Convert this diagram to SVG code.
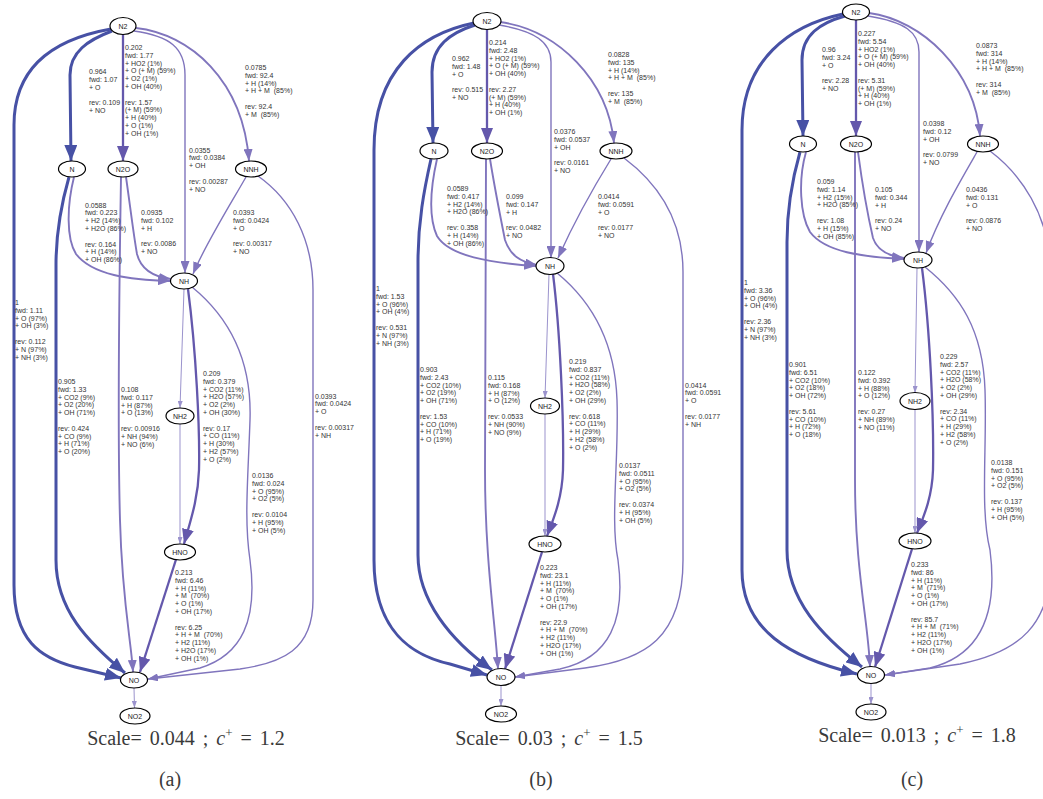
<svg xmlns="http://www.w3.org/2000/svg" width="1043" height="799" viewBox="0 0 1043 799">
<style>
.bg{fill:#fff}
.nd ellipse{fill:#fff;stroke:#000;stroke-width:1.2}
.nd text{font-family:"Liberation Sans",Arial,sans-serif;font-size:7px;fill:#222;text-anchor:middle}
.e{fill:none}
.dk{stroke:#4751a5;stroke-width:3}
.md{stroke:#6458ac;stroke-width:2.3}
.lt{stroke:#8075bd;stroke-width:1.9}
.lt2{stroke:#8075bd;stroke-width:1.4}
.xs{stroke:#9b93cd;stroke-width:1}
.lb{font-family:"Liberation Sans",Arial,sans-serif;font-size:7px;fill:#333;white-space:pre}
.cap{font-family:"Liberation Serif","Times New Roman",serif;font-size:20px;fill:#3a3a3a;text-anchor:middle;word-spacing:3px}
</style>
<defs>
<marker id="aDk" markerUnits="userSpaceOnUse" viewBox="0 0 16 13" markerWidth="16" markerHeight="13" refX="16" refY="6.5" orient="auto"><path d="M0,0 L16,6.5 L0,13 Z" fill="#4751a5"/></marker>
<marker id="aMd" markerUnits="userSpaceOnUse" viewBox="0 0 15 12" markerWidth="15" markerHeight="12" refX="15" refY="6" orient="auto"><path d="M0,0 L15,6 L0,12 Z" fill="#6458ac"/></marker>
<marker id="aLt" markerUnits="userSpaceOnUse" viewBox="0 0 12 9" markerWidth="12" markerHeight="9" refX="12" refY="4.5" orient="auto"><path d="M0,0 L12,4.5 L0,9 Z" fill="#8075bd"/></marker>
<marker id="aLt2" markerUnits="userSpaceOnUse" viewBox="0 0 10 7" markerWidth="10" markerHeight="7" refX="10" refY="3.5" orient="auto"><path d="M0,0 L10,3.5 L0,7 Z" fill="#8075bd"/></marker>
<marker id="aXs" markerUnits="userSpaceOnUse" viewBox="0 0 7 5" markerWidth="7" markerHeight="5" refX="7" refY="2.5" orient="auto"><path d="M0,0 L7,2.5 L0,5 Z" fill="#9b93cd"/></marker>
</defs>
<rect class="bg" x="0" y="0" width="1043" height="799"/>

<g id="connectors">
<!-- panel a -->
<path class="e dk" marker-end="url(#aDk)" d="M111,29 C60,38 14,62 14,125 L14,585 C14,640 40,658 75,667 L121,678"/>
<path class="e dk" marker-end="url(#aDk)" d="M112,31 C88,40 70,52 70,75 L71,161"/>
<path class="e md" marker-end="url(#aMd)" d="M123,34.5 L123,161"/>
<path class="e lt" marker-end="url(#aLt)" d="M136,28 C190,34 243,80 249,161"/>
<path class="e lt2" marker-end="url(#aLt)" d="M134,31 C170,36 185,48 185,75 L185,273"/>
<path class="e dk" marker-end="url(#aDk)" d="M69,177 C61,205 56,232 56,265 L56,560 C56,610 88,642 125,673"/>
<path class="e lt" marker-end="url(#aLt)" d="M74,177 C67,205 66,238 76,254 C92,275 130,280 170,281"/>
<path class="e lt" marker-end="url(#aLt)" d="M126,177 C130,205 134,238 137,254 C141,270 155,277 171,279"/>
<path class="e lt" marker-end="url(#aLt)" d="M121,177 C119,300 118,450 120,520 C122,600 131,640 133,672"/>
<path class="e lt2" marker-end="url(#aLt)" d="M246,177 C230,205 205,245 193,274"/>
<path class="e lt2" marker-end="url(#aLt2)" d="M258,176 C292,200 313,240 313,290 L313,600 C313,650 282,663 240,669 L148,679"/>
<path class="e xs" marker-end="url(#aXs)" d="M184,289 L180,408"/>
<path class="e md" marker-end="url(#aMd)" d="M188,289 C196,350 200,430 199,470 C198,500 190,522 184,544"/>
<path class="e lt2" marker-end="url(#aLt2)" d="M192,287 C230,318 252,360 250,420 C248,480 244,520 250,560 C258,620 242,655 200,668 L148,679"/>
<path class="e xs" marker-end="url(#aXs)" d="M180,424 L180,544"/>
<path class="e md" marker-end="url(#aMd)" d="M176,559.5 L140,672"/>
<path class="e xs" marker-end="url(#aXs)" d="M134,688 L134.5,708"/>
<!-- panel b -->
<path class="e dk" marker-end="url(#aDk)" d="M474,23 C420,34 374,70 374,150 L374,560 C374,630 410,655 450,664 L487,675"/>
<path class="e dk" marker-end="url(#aDk)" d="M475,25 C450,33 432,46 432,72 L433,143"/>
<path class="e md" marker-end="url(#aMd)" d="M487,29 L487,143"/>
<path class="e lt" marker-end="url(#aLt)" d="M500,22 C558,30 608,80 614,143"/>
<path class="e lt2" marker-end="url(#aLt)" d="M499,25 C535,31 551,42 551,62 L551,258"/>
<path class="e dk" marker-end="url(#aDk)" d="M431,159 C424,190 418,222 418,262 L418,555 C418,600 450,640 492,670"/>
<path class="e lt" marker-end="url(#aLt)" d="M437,159 C430,190 428,216 437,236 C449,256 490,263 536,266"/>
<path class="e lt" marker-end="url(#aLt)" d="M490,159 C495,190 502,225 505,240 C510,255 520,262 537,265"/>
<path class="e lt" marker-end="url(#aLt)" d="M486,159 L485,470 C485,560 495,620 498,669"/>
<path class="e lt2" marker-end="url(#aLt)" d="M611,159 C595,185 575,220 558,258"/>
<path class="e lt2" marker-end="url(#aLt2)" d="M624,158 C660,185 683,222 683,272 L683,560 C683,638 645,660 585,668 L515,677"/>
<path class="e xs" marker-end="url(#aXs)" d="M549,274 L545,398"/>
<path class="e md" marker-end="url(#aMd)" d="M553,274 C560,330 564,420 563,470 C562,500 553,520 547,536"/>
<path class="e lt2" marker-end="url(#aLt2)" d="M557,273 C590,300 615,340 617,400 C619,460 610,520 618,560 C626,620 610,658 560,669 L515,677"/>
<path class="e xs" marker-end="url(#aXs)" d="M545,414 L545,536"/>
<path class="e md" marker-end="url(#aMd)" d="M542,552 L505,669"/>
<path class="e xs" marker-end="url(#aXs)" d="M501,685 L501,706"/>
<!-- panel c -->
<path class="e dk" marker-end="url(#aDk)" d="M843,14 C790,25 742,60 742,130 L742,570 C742,630 790,658 857,674"/>
<path class="e dk" marker-end="url(#aDk)" d="M845,16 C820,23 802,35 802,60 L803,136"/>
<path class="e md" marker-end="url(#aMd)" d="M856,20 L856,136"/>
<path class="e lt" marker-end="url(#aLt)" d="M869,13 C922,20 975,70 980,136"/>
<path class="e lt2" marker-end="url(#aLt)" d="M868,16 C905,22 919,32 919,52 L919,252"/>
<path class="e dk" marker-end="url(#aDk)" d="M800,152 C792,180 787,210 787,242 L787,550 C787,600 822,636 862,667"/>
<path class="e lt" marker-end="url(#aLt)" d="M806,152 C798,180 800,215 810,232 C825,252 862,257 904,259"/>
<path class="e lt" marker-end="url(#aLt)" d="M858,152 C863,190 870,225 873,238 C877,250 888,256 904,258"/>
<path class="e lt" marker-end="url(#aLt)" d="M855,152 L855,480 C855,570 868,620 870,667"/>
<path class="e lt2" marker-end="url(#aLt)" d="M977,152 C962,178 940,215 926,253"/>
<path class="e lt2" marker-end="url(#aLt2)" d="M990,151 C1022,175 1048,215 1050,265 L1052,560 C1050,625 1020,652 960,664 L885,675"/>
<path class="e xs" marker-end="url(#aXs)" d="M917,268 L915,393"/>
<path class="e md" marker-end="url(#aMd)" d="M922,268 C930,330 934,420 933,470 C932,500 922,520 917,533"/>
<path class="e lt2" marker-end="url(#aLt2)" d="M925,267 C960,295 983,330 985,390 C987,450 980,510 990,550 C998,612 982,655 930,668 L885,675"/>
<path class="e xs" marker-end="url(#aXs)" d="M915,409 L915,533"/>
<path class="e md" marker-end="url(#aMd)" d="M912,549 L875,667"/>
<path class="e xs" marker-end="url(#aXs)" d="M871,683 L871,704"/>
</g>

<g id="edge-labels">
<!-- panel a -->
<text class="lb" y="74"><tspan x="89">0.964</tspan><tspan x="89" dy="7.8">fwd: 1.07</tspan><tspan x="89" dy="7.8">+ O</tspan><tspan x="89" dy="15.6">rev: 0.109</tspan><tspan x="89" dy="7.8">+ NO</tspan></text>
<text class="lb" y="50"><tspan x="125">0.202</tspan><tspan x="125" dy="7.8">fwd: 1.77</tspan><tspan x="125" dy="7.8">+ HO2 (1%)</tspan><tspan x="125" dy="7.8">+ O (+ M) (59%)</tspan><tspan x="125" dy="7.8">+ O2 (1%)</tspan><tspan x="125" dy="7.8">+ OH (40%)</tspan><tspan x="125" dy="15.6">rev: 1.57</tspan><tspan x="125" dy="7.8">(+ M) (59%)</tspan><tspan x="125" dy="7.8">+ H (40%)</tspan><tspan x="125" dy="7.8">+ O (1%)</tspan><tspan x="125" dy="7.8">+ OH (1%)</tspan></text>
<text class="lb" y="70"><tspan x="245">0.0785</tspan><tspan x="245" dy="7.8">fwd: 92.4</tspan><tspan x="245" dy="7.8">+ H (14%)</tspan><tspan x="245" dy="7.8">+ H + M  (85%)</tspan><tspan x="245" dy="15.6">rev: 92.4</tspan><tspan x="245" dy="7.8">+ M  (85%)</tspan></text>
<text class="lb" y="152.5"><tspan x="189">0.0355</tspan><tspan x="189" dy="7.8">fwd: 0.0384</tspan><tspan x="189" dy="7.8">+ OH</tspan><tspan x="189" dy="15.6">rev: 0.00287</tspan><tspan x="189" dy="7.8">+ NO</tspan></text>
<text class="lb" y="207.5"><tspan x="85">0.0588</tspan><tspan x="85" dy="7.8">fwd: 0.223</tspan><tspan x="85" dy="7.8">+ H2 (14%)</tspan><tspan x="85" dy="7.8">+ H2O (86%)</tspan><tspan x="85" dy="15.6">rev: 0.164</tspan><tspan x="85" dy="7.8">+ H (14%)</tspan><tspan x="85" dy="7.8">+ OH (86%)</tspan></text>
<text class="lb" y="215"><tspan x="141">0.0935</tspan><tspan x="141" dy="7.8">fwd: 0.102</tspan><tspan x="141" dy="7.8">+ H</tspan><tspan x="141" dy="15.6">rev: 0.0086</tspan><tspan x="141" dy="7.8">+ NO</tspan></text>
<text class="lb" y="215"><tspan x="233">0.0393</tspan><tspan x="233" dy="7.8">fwd: 0.0424</tspan><tspan x="233" dy="7.8">+ O</tspan><tspan x="233" dy="15.6">rev: 0.00317</tspan><tspan x="233" dy="7.8">+ NO</tspan></text>
<text class="lb" y="305"><tspan x="15">1</tspan><tspan x="15" dy="7.8">fwd: 1.11</tspan><tspan x="15" dy="7.8">+ O (97%)</tspan><tspan x="15" dy="7.8">+ OH (3%)</tspan><tspan x="15" dy="15.6">rev: 0.112</tspan><tspan x="15" dy="7.8">+ N (97%)</tspan><tspan x="15" dy="7.8">+ NH (3%)</tspan></text>
<text class="lb" y="384"><tspan x="58">0.905</tspan><tspan x="58" dy="7.8">fwd: 1.33</tspan><tspan x="58" dy="7.8">+ CO2 (9%)</tspan><tspan x="58" dy="7.8">+ O2 (20%)</tspan><tspan x="58" dy="7.8">+ OH (71%)</tspan><tspan x="58" dy="15.6">rev: 0.424</tspan><tspan x="58" dy="7.8">+ CO (9%)</tspan><tspan x="58" dy="7.8">+ H (71%)</tspan><tspan x="58" dy="7.8">+ O (20%)</tspan></text>
<text class="lb" y="392"><tspan x="121">0.108</tspan><tspan x="121" dy="7.8">fwd: 0.117</tspan><tspan x="121" dy="7.8">+ H (87%)</tspan><tspan x="121" dy="7.8">+ O (13%)</tspan><tspan x="121" dy="15.6">rev: 0.00916</tspan><tspan x="121" dy="7.8">+ NH (94%)</tspan><tspan x="121" dy="7.8">+ NO (6%)</tspan></text>
<text class="lb" y="376"><tspan x="203">0.209</tspan><tspan x="203" dy="7.8">fwd: 0.379</tspan><tspan x="203" dy="7.8">+ CO2 (11%)</tspan><tspan x="203" dy="7.8">+ H2O (57%)</tspan><tspan x="203" dy="7.8">+ O2 (2%)</tspan><tspan x="203" dy="7.8">+ OH (30%)</tspan><tspan x="203" dy="15.6">rev: 0.17</tspan><tspan x="203" dy="7.8">+ CO (11%)</tspan><tspan x="203" dy="7.8">+ H (30%)</tspan><tspan x="203" dy="7.8">+ H2 (57%)</tspan><tspan x="203" dy="7.8">+ O (2%)</tspan></text>
<text class="lb" y="398.5"><tspan x="315">0.0393</tspan><tspan x="315" dy="7.8">fwd: 0.0424</tspan><tspan x="315" dy="7.8">+ O</tspan><tspan x="315" dy="15.6">rev: 0.00317</tspan><tspan x="315" dy="7.8">+ NH</tspan></text>
<text class="lb" y="478"><tspan x="252">0.0136</tspan><tspan x="252" dy="7.8">fwd: 0.024</tspan><tspan x="252" dy="7.8">+ O (95%)</tspan><tspan x="252" dy="7.8">+ O2 (5%)</tspan><tspan x="252" dy="15.6">rev: 0.0104</tspan><tspan x="252" dy="7.8">+ H (95%)</tspan><tspan x="252" dy="7.8">+ OH (5%)</tspan></text>
<text class="lb" y="575"><tspan x="175">0.213</tspan><tspan x="175" dy="7.8">fwd: 6.46</tspan><tspan x="175" dy="7.8">+ H (11%)</tspan><tspan x="175" dy="7.8">+ M  (70%)</tspan><tspan x="175" dy="7.8">+ O (1%)</tspan><tspan x="175" dy="7.8">+ OH (17%)</tspan><tspan x="175" dy="15.6">rev: 6.25</tspan><tspan x="175" dy="7.8">+ H + M  (70%)</tspan><tspan x="175" dy="7.8">+ H2 (11%)</tspan><tspan x="175" dy="7.8">+ H2O (17%)</tspan><tspan x="175" dy="7.8">+ OH (1%)</tspan></text>
<!-- panel b -->
<text class="lb" y="61"><tspan x="452">0.962</tspan><tspan x="452" dy="7.8">fwd: 1.48</tspan><tspan x="452" dy="7.8">+ O</tspan><tspan x="452" dy="15.6">rev: 0.515</tspan><tspan x="452" dy="7.8">+ NO</tspan></text>
<text class="lb" y="45"><tspan x="489">0.214</tspan><tspan x="489" dy="7.8">fwd: 2.48</tspan><tspan x="489" dy="7.8">+ HO2 (1%)</tspan><tspan x="489" dy="7.8">+ O (+ M) (59%)</tspan><tspan x="489" dy="7.8">+ OH (40%)</tspan><tspan x="489" dy="15.6">rev: 2.27</tspan><tspan x="489" dy="7.8">(+ M) (59%)</tspan><tspan x="489" dy="7.8">+ H (40%)</tspan><tspan x="489" dy="7.8">+ OH (1%)</tspan></text>
<text class="lb" y="57"><tspan x="608">0.0828</tspan><tspan x="608" dy="7.8">fwd: 135</tspan><tspan x="608" dy="7.8">+ H (14%)</tspan><tspan x="608" dy="7.8">+ H + M  (85%)</tspan><tspan x="608" dy="15.6">rev: 135</tspan><tspan x="608" dy="7.8">+ M  (85%)</tspan></text>
<text class="lb" y="134"><tspan x="554">0.0376</tspan><tspan x="554" dy="7.8">fwd: 0.0537</tspan><tspan x="554" dy="7.8">+ OH</tspan><tspan x="554" dy="15.6">rev: 0.0161</tspan><tspan x="554" dy="7.8">+ NO</tspan></text>
<text class="lb" y="191"><tspan x="447">0.0589</tspan><tspan x="447" dy="7.8">fwd: 0.417</tspan><tspan x="447" dy="7.8">+ H2 (14%)</tspan><tspan x="447" dy="7.8">+ H2O (86%)</tspan><tspan x="447" dy="15.6">rev: 0.358</tspan><tspan x="447" dy="7.8">+ H (14%)</tspan><tspan x="447" dy="7.8">+ OH (86%)</tspan></text>
<text class="lb" y="199"><tspan x="506">0.099</tspan><tspan x="506" dy="7.8">fwd: 0.147</tspan><tspan x="506" dy="7.8">+ H</tspan><tspan x="506" dy="15.6">rev: 0.0482</tspan><tspan x="506" dy="7.8">+ NO</tspan></text>
<text class="lb" y="199"><tspan x="598">0.0414</tspan><tspan x="598" dy="7.8">fwd: 0.0591</tspan><tspan x="598" dy="7.8">+ O</tspan><tspan x="598" dy="15.6">rev: 0.0177</tspan><tspan x="598" dy="7.8">+ NO</tspan></text>
<text class="lb" y="291"><tspan x="376">1</tspan><tspan x="376" dy="7.8">fwd: 1.53</tspan><tspan x="376" dy="7.8">+ O (96%)</tspan><tspan x="376" dy="7.8">+ OH (4%)</tspan><tspan x="376" dy="15.6">rev: 0.531</tspan><tspan x="376" dy="7.8">+ N (97%)</tspan><tspan x="376" dy="7.8">+ NH (3%)</tspan></text>
<text class="lb" y="372"><tspan x="420">0.903</tspan><tspan x="420" dy="7.8">fwd: 2.43</tspan><tspan x="420" dy="7.8">+ CO2 (10%)</tspan><tspan x="420" dy="7.8">+ O2 (19%)</tspan><tspan x="420" dy="7.8">+ OH (71%)</tspan><tspan x="420" dy="15.6">rev: 1.53</tspan><tspan x="420" dy="7.8">+ CO (10%)</tspan><tspan x="420" dy="7.8">+ H (71%)</tspan><tspan x="420" dy="7.8">+ O (19%)</tspan></text>
<text class="lb" y="380"><tspan x="488">0.115</tspan><tspan x="488" dy="7.8">fwd: 0.168</tspan><tspan x="488" dy="7.8">+ H (87%)</tspan><tspan x="488" dy="7.8">+ O (12%)</tspan><tspan x="488" dy="15.6">rev: 0.0533</tspan><tspan x="488" dy="7.8">+ NH (90%)</tspan><tspan x="488" dy="7.8">+ NO (9%)</tspan></text>
<text class="lb" y="364"><tspan x="569">0.219</tspan><tspan x="569" dy="7.8">fwd: 0.837</tspan><tspan x="569" dy="7.8">+ CO2 (11%)</tspan><tspan x="569" dy="7.8">+ H2O (58%)</tspan><tspan x="569" dy="7.8">+ O2 (2%)</tspan><tspan x="569" dy="7.8">+ OH (29%)</tspan><tspan x="569" dy="15.6">rev: 0.618</tspan><tspan x="569" dy="7.8">+ CO (11%)</tspan><tspan x="569" dy="7.8">+ H (29%)</tspan><tspan x="569" dy="7.8">+ H2 (58%)</tspan><tspan x="569" dy="7.8">+ O (2%)</tspan></text>
<text class="lb" y="387.5"><tspan x="685">0.0414</tspan><tspan x="685" dy="7.8">fwd: 0.0591</tspan><tspan x="685" dy="7.8">+ O</tspan><tspan x="685" dy="15.6">rev: 0.0177</tspan><tspan x="685" dy="7.8">+ NH</tspan></text>
<text class="lb" y="468"><tspan x="619">0.0137</tspan><tspan x="619" dy="7.8">fwd: 0.0511</tspan><tspan x="619" dy="7.8">+ O (95%)</tspan><tspan x="619" dy="7.8">+ O2 (5%)</tspan><tspan x="619" dy="15.6">rev: 0.0374</tspan><tspan x="619" dy="7.8">+ H (95%)</tspan><tspan x="619" dy="7.8">+ OH (5%)</tspan></text>
<text class="lb" y="570"><tspan x="540">0.223</tspan><tspan x="540" dy="7.8">fwd: 23.1</tspan><tspan x="540" dy="7.8">+ H (11%)</tspan><tspan x="540" dy="7.8">+ M  (70%)</tspan><tspan x="540" dy="7.8">+ O (1%)</tspan><tspan x="540" dy="7.8">+ OH (17%)</tspan><tspan x="540" dy="15.6">rev: 22.9</tspan><tspan x="540" dy="7.8">+ H + M  (70%)</tspan><tspan x="540" dy="7.8">+ H2 (11%)</tspan><tspan x="540" dy="7.8">+ H2O (17%)</tspan><tspan x="540" dy="7.8">+ OH (1%)</tspan></text>
<!-- panel c -->
<text class="lb" y="52"><tspan x="822">0.96</tspan><tspan x="822" dy="7.8">fwd: 3.24</tspan><tspan x="822" dy="7.8">+ O</tspan><tspan x="822" dy="15.6">rev: 2.28</tspan><tspan x="822" dy="7.8">+ NO</tspan></text>
<text class="lb" y="36"><tspan x="858">0.227</tspan><tspan x="858" dy="7.8">fwd: 5.54</tspan><tspan x="858" dy="7.8">+ HO2 (1%)</tspan><tspan x="858" dy="7.8">+ O (+ M) (59%)</tspan><tspan x="858" dy="7.8">+ OH (40%)</tspan><tspan x="858" dy="15.6">rev: 5.31</tspan><tspan x="858" dy="7.8">(+ M) (59%)</tspan><tspan x="858" dy="7.8">+ H (40%)</tspan><tspan x="858" dy="7.8">+ OH (1%)</tspan></text>
<text class="lb" y="48"><tspan x="976">0.0873</tspan><tspan x="976" dy="7.8">fwd: 314</tspan><tspan x="976" dy="7.8">+ H (14%)</tspan><tspan x="976" dy="7.8">+ H + M  (85%)</tspan><tspan x="976" dy="15.6">rev: 314</tspan><tspan x="976" dy="7.8">+ M  (85%)</tspan></text>
<text class="lb" y="126"><tspan x="923">0.0398</tspan><tspan x="923" dy="7.8">fwd: 0.12</tspan><tspan x="923" dy="7.8">+ OH</tspan><tspan x="923" dy="15.6">rev: 0.0799</tspan><tspan x="923" dy="7.8">+ NO</tspan></text>
<text class="lb" y="184"><tspan x="817">0.059</tspan><tspan x="817" dy="7.8">fwd: 1.14</tspan><tspan x="817" dy="7.8">+ H2 (15%)</tspan><tspan x="817" dy="7.8">+ H2O (85%)</tspan><tspan x="817" dy="15.6">rev: 1.08</tspan><tspan x="817" dy="7.8">+ H (15%)</tspan><tspan x="817" dy="7.8">+ OH (85%)</tspan></text>
<text class="lb" y="192"><tspan x="875">0.105</tspan><tspan x="875" dy="7.8">fwd: 0.344</tspan><tspan x="875" dy="7.8">+ H</tspan><tspan x="875" dy="15.6">rev: 0.24</tspan><tspan x="875" dy="7.8">+ NO</tspan></text>
<text class="lb" y="192"><tspan x="966">0.0436</tspan><tspan x="966" dy="7.8">fwd: 0.131</tspan><tspan x="966" dy="7.8">+ O</tspan><tspan x="966" dy="15.6">rev: 0.0876</tspan><tspan x="966" dy="7.8">+ NO</tspan></text>
<text class="lb" y="285"><tspan x="744">1</tspan><tspan x="744" dy="7.8">fwd: 3.36</tspan><tspan x="744" dy="7.8">+ O (96%)</tspan><tspan x="744" dy="7.8">+ OH (4%)</tspan><tspan x="744" dy="15.6">rev: 2.36</tspan><tspan x="744" dy="7.8">+ N (97%)</tspan><tspan x="744" dy="7.8">+ NH (3%)</tspan></text>
<text class="lb" y="367"><tspan x="789">0.901</tspan><tspan x="789" dy="7.8">fwd: 6.51</tspan><tspan x="789" dy="7.8">+ CO2 (10%)</tspan><tspan x="789" dy="7.8">+ O2 (18%)</tspan><tspan x="789" dy="7.8">+ OH (72%)</tspan><tspan x="789" dy="15.6">rev: 5.61</tspan><tspan x="789" dy="7.8">+ CO (10%)</tspan><tspan x="789" dy="7.8">+ H (72%)</tspan><tspan x="789" dy="7.8">+ O (18%)</tspan></text>
<text class="lb" y="375"><tspan x="858">0.122</tspan><tspan x="858" dy="7.8">fwd: 0.392</tspan><tspan x="858" dy="7.8">+ H (88%)</tspan><tspan x="858" dy="7.8">+ O (12%)</tspan><tspan x="858" dy="15.6">rev: 0.27</tspan><tspan x="858" dy="7.8">+ NH (89%)</tspan><tspan x="858" dy="7.8">+ NO (11%)</tspan></text>
<text class="lb" y="359"><tspan x="940">0.229</tspan><tspan x="940" dy="7.8">fwd: 2.57</tspan><tspan x="940" dy="7.8">+ CO2 (11%)</tspan><tspan x="940" dy="7.8">+ H2O (58%)</tspan><tspan x="940" dy="7.8">+ O2 (2%)</tspan><tspan x="940" dy="7.8">+ OH (29%)</tspan><tspan x="940" dy="15.6">rev: 2.34</tspan><tspan x="940" dy="7.8">+ CO (11%)</tspan><tspan x="940" dy="7.8">+ H (29%)</tspan><tspan x="940" dy="7.8">+ H2 (58%)</tspan><tspan x="940" dy="7.8">+ O (2%)</tspan></text>
<text class="lb" y="465"><tspan x="991">0.0138</tspan><tspan x="991" dy="7.8">fwd: 0.151</tspan><tspan x="991" dy="7.8">+ O (95%)</tspan><tspan x="991" dy="7.8">+ O2 (5%)</tspan><tspan x="991" dy="15.6">rev: 0.137</tspan><tspan x="991" dy="7.8">+ H (95%)</tspan><tspan x="991" dy="7.8">+ OH (5%)</tspan></text>
<text class="lb" y="567"><tspan x="911">0.233</tspan><tspan x="911" dy="7.8">fwd: 86</tspan><tspan x="911" dy="7.8">+ H (11%)</tspan><tspan x="911" dy="7.8">+ M  (71%)</tspan><tspan x="911" dy="7.8">+ O (1%)</tspan><tspan x="911" dy="7.8">+ OH (17%)</tspan><tspan x="911" dy="15.6">rev: 85.7</tspan><tspan x="911" dy="7.8">+ H + M  (71%)</tspan><tspan x="911" dy="7.8">+ H2 (11%)</tspan><tspan x="911" dy="7.8">+ H2O (17%)</tspan><tspan x="911" dy="7.8">+ OH (1%)</tspan></text>
</g>

<!-- nodes panel a -->
<g id="a-N2" class="nd"><ellipse cx="123" cy="26" rx="13" ry="8.5"/><text x="123" y="28.5">N2</text></g>
<g id="a-N" class="nd"><ellipse cx="72" cy="169" rx="13.5" ry="8"/><text x="72" y="171.5">N</text></g>
<g id="a-N2O" class="nd"><ellipse cx="123" cy="169" rx="15" ry="8"/><text x="123" y="171.5">N2O</text></g>
<g id="a-NNH" class="nd"><ellipse cx="251" cy="169" rx="15.5" ry="8"/><text x="251" y="171.5">NNH</text></g>
<g id="a-NH" class="nd"><ellipse cx="184" cy="281" rx="13.5" ry="8"/><text x="184" y="283.5">NH</text></g>
<g id="a-NH2" class="nd"><ellipse cx="180" cy="416" rx="14" ry="8"/><text x="180" y="418.5">NH2</text></g>
<g id="a-HNO" class="nd"><ellipse cx="180" cy="552" rx="15.5" ry="8"/><text x="180" y="554.5">HNO</text></g>
<g id="a-NO" class="nd"><ellipse cx="134" cy="680" rx="13.5" ry="8"/><text x="134" y="682.5">NO</text></g>
<g id="a-NO2" class="nd"><ellipse cx="135" cy="716" rx="15" ry="8"/><text x="135" y="718.5">NO2</text></g>
<!-- nodes panel b -->
<g id="b-N2" class="nd"><ellipse cx="487" cy="21" rx="14" ry="8.5"/><text x="487" y="23.5">N2</text></g>
<g id="b-N" class="nd"><ellipse cx="434" cy="151" rx="14" ry="8"/><text x="434" y="153.5">N</text></g>
<g id="b-N2O" class="nd"><ellipse cx="487" cy="151" rx="15.5" ry="8"/><text x="487" y="153.5">N2O</text></g>
<g id="b-NNH" class="nd"><ellipse cx="616" cy="151" rx="16" ry="8"/><text x="616" y="153.5">NNH</text></g>
<g id="b-NH" class="nd"><ellipse cx="550" cy="266" rx="14" ry="8.5"/><text x="550" y="268.5">NH</text></g>
<g id="b-NH2" class="nd"><ellipse cx="545" cy="406" rx="14.5" ry="8"/><text x="545" y="408.5">NH2</text></g>
<g id="b-HNO" class="nd"><ellipse cx="545" cy="544" rx="16" ry="8"/><text x="545" y="546.5">HNO</text></g>
<g id="b-NO" class="nd"><ellipse cx="501" cy="677" rx="14" ry="8.5"/><text x="501" y="679.5">NO</text></g>
<g id="b-NO2" class="nd"><ellipse cx="501" cy="714" rx="15.5" ry="8"/><text x="501" y="716.5">NO2</text></g>
<!-- nodes panel c -->
<g id="c-N2" class="nd"><ellipse cx="856" cy="12" rx="13.5" ry="8"/><text x="856" y="14.5">N2</text></g>
<g id="c-N" class="nd"><ellipse cx="803" cy="144" rx="13.5" ry="8"/><text x="803" y="146.5">N</text></g>
<g id="c-N2O" class="nd"><ellipse cx="856" cy="144" rx="15.5" ry="8"/><text x="856" y="146.5">N2O</text></g>
<g id="c-NNH" class="nd"><ellipse cx="983" cy="144" rx="15.5" ry="8"/><text x="983" y="146.5">NNH</text></g>
<g id="c-NH" class="nd"><ellipse cx="918" cy="260" rx="14" ry="8"/><text x="918" y="262.5">NH</text></g>
<g id="c-NH2" class="nd"><ellipse cx="915" cy="401" rx="15" ry="8.5"/><text x="915" y="403.5">NH2</text></g>
<g id="c-HNO" class="nd"><ellipse cx="915" cy="541" rx="16" ry="8"/><text x="915" y="543.5">HNO</text></g>
<g id="c-NO" class="nd"><ellipse cx="871" cy="675" rx="13.5" ry="8.5"/><text x="871" y="677.5">NO</text></g>
<g id="c-NO2" class="nd"><ellipse cx="871" cy="712" rx="15" ry="8"/><text x="871" y="714.5">NO2</text></g>

<g id="captions">
<text class="cap" x="186" y="745">Scale= 0.044 ; <tspan font-style="italic">c</tspan><tspan font-size="13" dy="-8">+</tspan><tspan dy="8"> = 1.2</tspan></text>
<text class="cap" x="549" y="745">Scale= 0.03 ; <tspan font-style="italic">c</tspan><tspan font-size="13" dy="-8">+</tspan><tspan dy="8"> = 1.5</tspan></text>
<text class="cap" x="917" y="742">Scale= 0.013 ; <tspan font-style="italic">c</tspan><tspan font-size="13" dy="-8">+</tspan><tspan dy="8"> = 1.8</tspan></text>
<text class="cap" x="170" y="786">(a)</text>
<text class="cap" x="541" y="786">(b)</text>
<text class="cap" x="912" y="786">(c)</text>
</g>
</svg>
